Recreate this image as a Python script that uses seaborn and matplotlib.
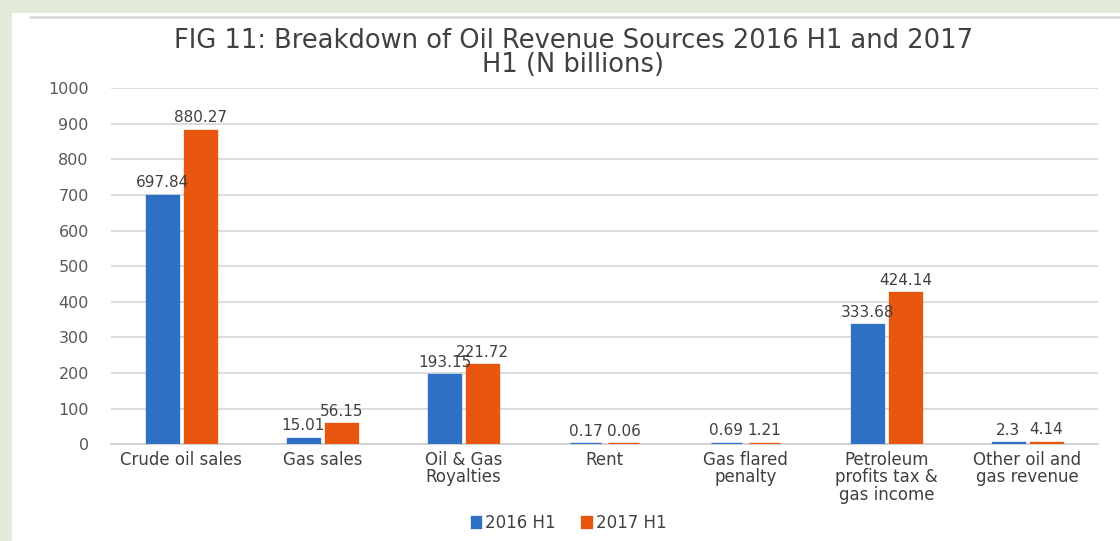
import matplotlib
matplotlib.use("Agg")
import matplotlib.pyplot as plt
import seaborn as sns
import pandas as pd
from matplotlib.patches import Rectangle

# data (N billions)
categories = ['Crude oil sales', 'Gas sales', 'Oil & Gas\nRoyalties', 'Rent',
              'Gas flared\npenalty', 'Petroleum\nprofits tax &\ngas income',
              'Other oil and\ngas revenue']
series_names = ['2016 H1', '2017 H1']
values_2016 = [697.84, 15.01, 193.15, 0.17, 0.69, 333.68, 2.3]
values_2017 = [880.27, 56.15, 221.72, 0.06, 1.21, 424.14, 4.14]
labels_2016 = ['697.84', '15.01', '193.15', '0.17', '0.69', '333.68', '2.3']
labels_2017 = ['880.27', '56.15', '221.72', '0.06', '1.21', '424.14', '4.14']
y_ticks = [0, 100, 200, 300, 400, 500, 600, 700, 800, 900, 1000]

colors = ['#2e70c4', '#e8560f']

df = pd.DataFrame({
    'category': categories * 2,
    'series': [series_names[0]] * len(categories) + [series_names[1]] * len(categories),
    'value': values_2016 + values_2017,
})

sns.set_style('white')
plt.rcParams['font.family'] = ['DejaVu Sans']

fig = plt.figure(figsize=(11.2, 5.41), dpi=100)
fig.patch.set_facecolor('#e4ebdb')
# white panel of the screenshot
fig.patches.append(Rectangle((12 / 1120, 0), 1 - 12 / 1120, 1 - 13 / 541,
                             transform=fig.transFigure, facecolor='white',
                             edgecolor='none', zorder=-5))
fig.add_artist(plt.Line2D([30 / 1120, 1], [1 - 17 / 541] * 2, color='#dcdcdc',
                          lw=2, transform=fig.transFigure, zorder=-4))

ax = fig.add_axes([111 / 1120, 0.179, 987 / 1120, 0.658])
ax.set_facecolor('none')
ax.set_zorder(2)

sns.barplot(data=df, x='category', y='value', hue='series', palette=colors,
            saturation=1, width=0.54, gap=0.185, ax=ax, order=categories,
            hue_order=series_names, legend=True)

# make tiny bars show as thin lines like the original
for p in ax.patches:
    p.set_edgecolor(p.get_facecolor())
    p.set_linewidth(2.4)
    p.set_zorder(3)

for container, labs in zip(ax.containers, [labels_2016, labels_2017]):
    ax.bar_label(container, labels=labs, padding=4, fontsize=11, color='#404040')

ax.set_ylim(0, 1000)
ax.set_yticks(y_ticks)
ax.yaxis.grid(True, color='#d9d9d9', linewidth=1.3)
ax.set_axisbelow(True)
for s in ['top', 'right', 'left']:
    ax.spines[s].set_visible(False)
ax.spines['bottom'].set_color('#d0d0d0')
ax.spines['bottom'].set_linewidth(1.3)
ax.spines['bottom'].set_zorder(1)
ax.tick_params(axis='y', length=0, labelsize=11.5, labelcolor='#595959', pad=16)
ax.tick_params(axis='x', length=0, labelsize=12, labelcolor='#404040', pad=5)
for t in ax.get_xticklabels():
    t.set_linespacing(0.95)
ax.set_xlabel('')
ax.set_ylabel('')
ax.set_xlim(-0.5, len(categories) - 0.5)

leg = ax.legend(loc='center', bbox_to_anchor=(0.508, 0.033), bbox_transform=fig.transFigure,
                ncol=2, frameon=False, fontsize=12, handlelength=0.5, handleheight=0.5,
                handletextpad=0.3, columnspacing=1.6)
for t in leg.get_texts():
    t.set_color('#404040')

fig.text(0.512, 0.902, 'FIG 11: Breakdown of Oil Revenue Sources 2016 H1 and 2017\nH1 (N billions)',
         ha='center', va='center', fontsize=18.5, color='#404040', linespacing=0.86)

fig.savefig('out.png', dpi=100, facecolor=fig.get_facecolor())
